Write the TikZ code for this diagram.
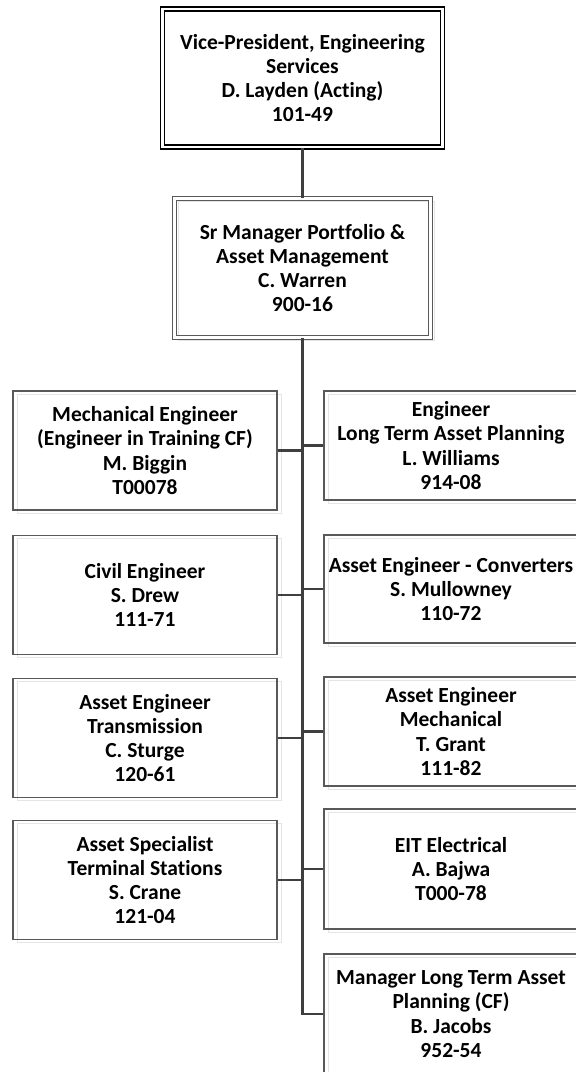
\documentclass[tikz,border=0pt]{standalone}
\usepackage{fontspec}
\setmainfont{Carlito}[Ligatures=NoCommon]
\usetikzlibrary{shadows}

\definecolor{boxgray}{HTML}{595959}
\definecolor{linegray}{HTML}{3F3F3F}

\begin{document}
\begin{tikzpicture}[x=1pt, y=-1pt,
    post/.style={draw=boxgray, line width=1.3pt, inner sep=0pt, align=center,
        font=\fontsize{21.5}{24.3}\selectfont\bfseries,
        drop shadow={shadow xshift=4pt, shadow yshift=-3pt, opacity=1,
            fill=white, draw=black!10, line width=1pt}},
    leftpost/.style={post, minimum width=264pt, minimum height=119pt},
    rightpost/.style={post, minimum width=254pt},
    spine/.style={draw=linegray, line width=2.7pt},
    branch/.style={draw=linegray, line width=2.4pt}]
        % Rahmen
        \clip (0,0) rectangle (576,1072);

        % Leitung
        \node[draw=black, line width=1.6pt, double, double distance=2.4pt,
            inner sep=0pt, align=center, font=\fontsize{21.5}{24}\selectfont\bfseries,
            minimum width=280pt, minimum height=138pt] (vp) at (302.5,78)
            {Vice-President, Engineering\\Services\\D. Layden (Acting)\\101-49};
        \node[post, double, double distance=2.4pt, line width=1.2pt,
            minimum width=256pt, minimum height=139pt] (sr) at (302.5,268)
            {Sr Manager Portfolio \&\\Asset Management\\C. Warren\\900-16};

        % linke Spalte
        \node[leftpost] (l1) at (145,450.5) {Mechanical Engineer\\(Engineer in Training CF)\\M. Biggin\\T00078};
        \node[leftpost] (l2) at (145,595) {Civil Engineer\\S. Drew\\111-71};
        \node[leftpost] (l3) at (145,738) {Asset Engineer\\Transmission\\C. Sturge\\120-61};
        \node[leftpost] (l4) at (145,880) {Asset Specialist\\Terminal Stations\\S. Crane\\121-04};

        % rechte Spalte
        \node[rightpost, minimum height=109pt] (r1) at (451,445.5) {Engineer\\Long Term Asset Planning\\L. Williams\\914-08};
        \node[rightpost, minimum height=108pt] (r2) at (451,589) {Asset Engineer - Converters\\S. Mullowney\\110-72};
        \node[rightpost, minimum height=109pt] (r3) at (451,731.5) {Asset Engineer\\Mechanical\\T. Grant\\111-82};
        \node[rightpost, minimum height=120pt] (r4) at (451,869) {EIT Electrical\\A. Bajwa\\T000-78};
        \node[rightpost, minimum height=120pt] (r5) at (451,1014) {Manager Long Term Asset\\Planning (CF)\\B. Jacobs\\952-54};

        % Verbindungen
        \draw[spine] (vp.south) -- (sr.north);
        \draw[spine] (sr.south) -- (sr.south |- r5.west) -- (r5.west);
        \foreach \b in {l1, l2, l3, l4} {
            \draw[branch] (\b.east) -- (\b.east -| sr.south);
        }
        \foreach \b in {r1, r2, r3, r4} {
            \draw[branch] (\b.west) -- (\b.west -| sr.south);
        }
\end{tikzpicture}
\end{document}
